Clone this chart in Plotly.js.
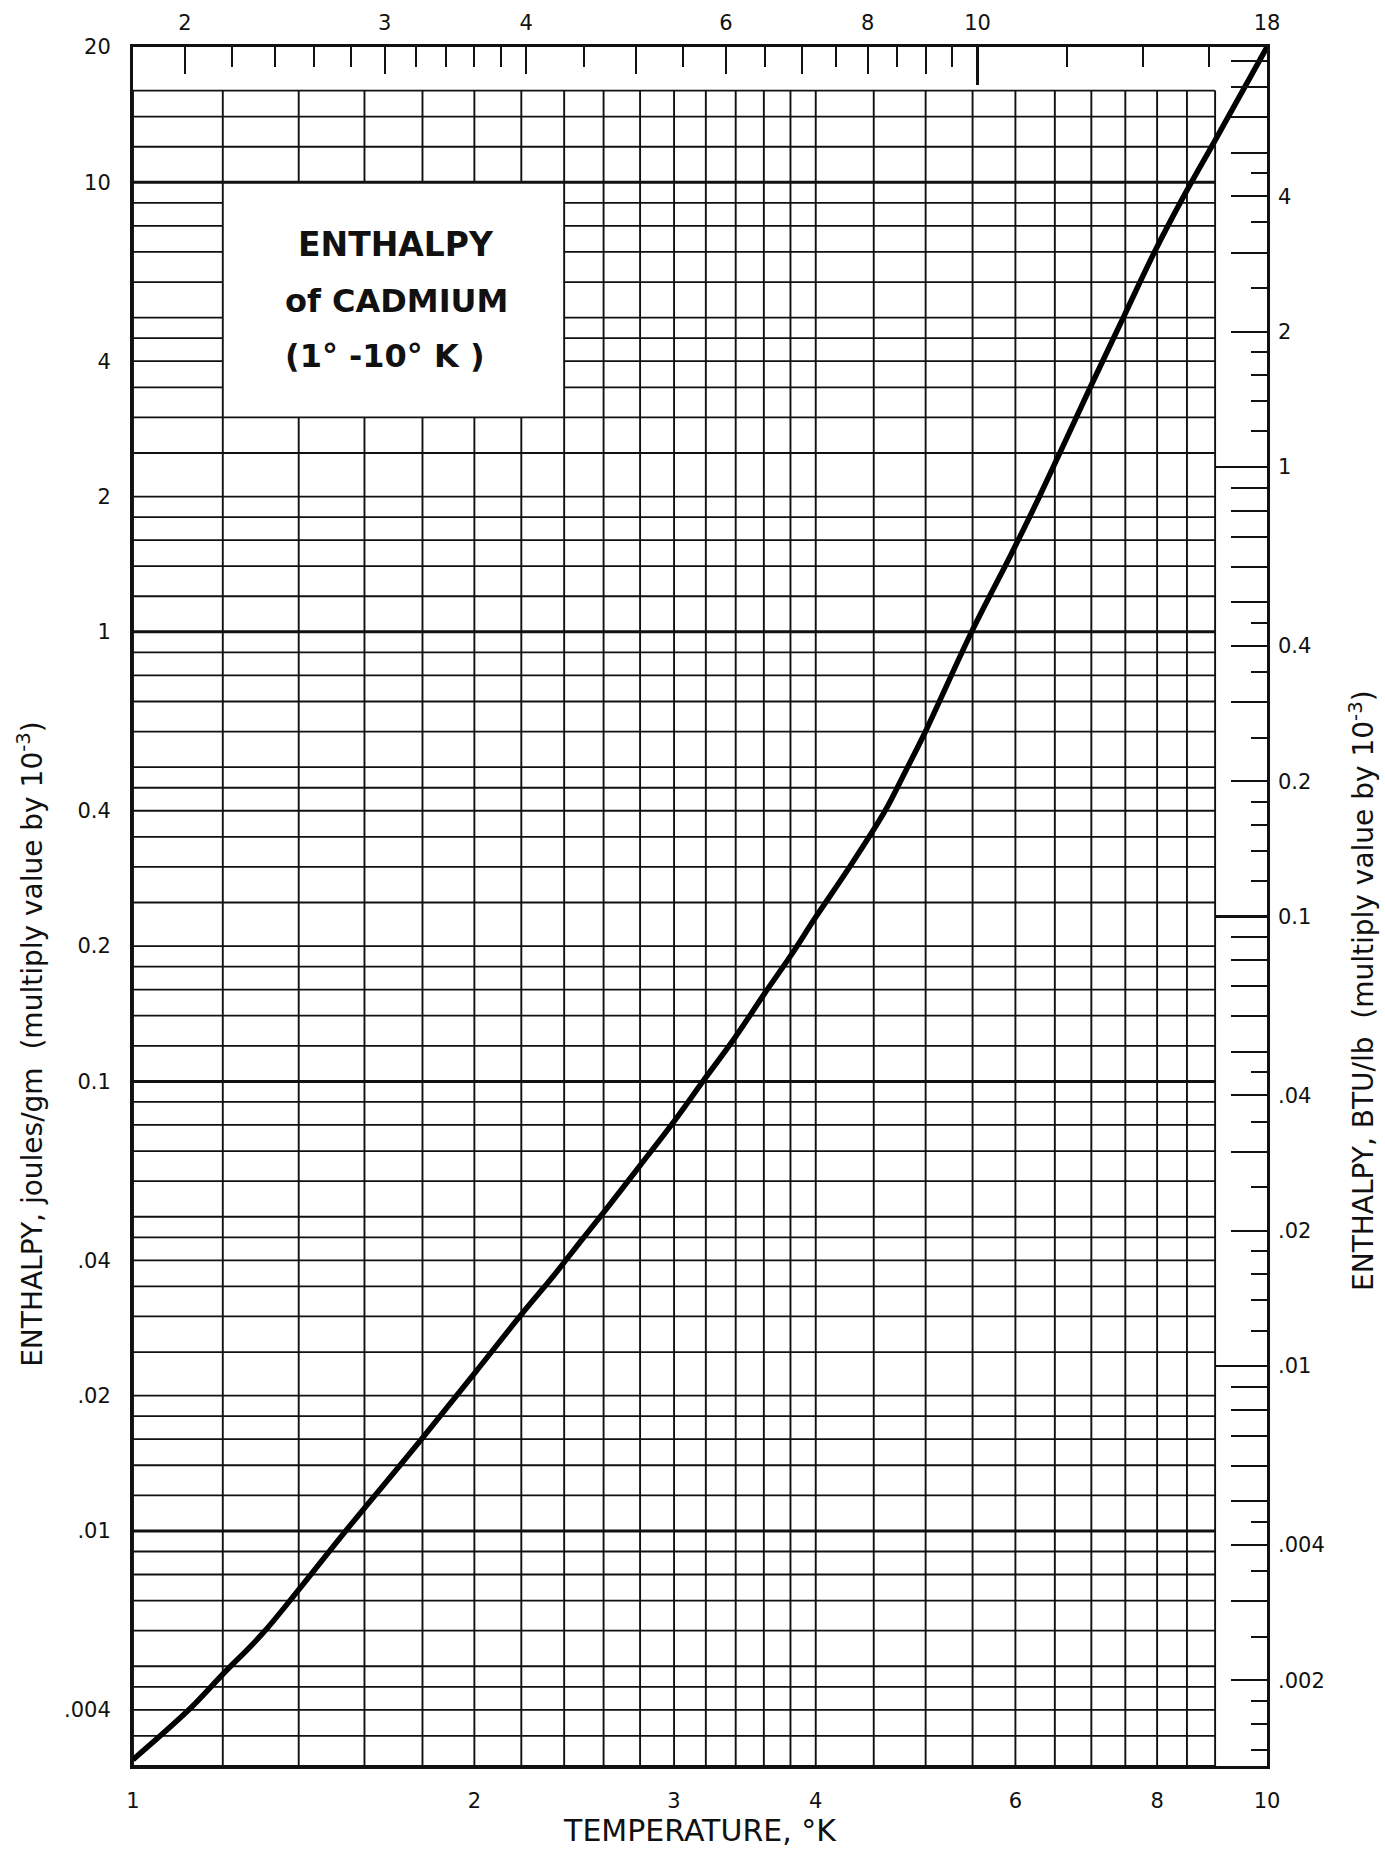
<!DOCTYPE html>
<html>
<head>
<meta charset="utf-8">
<script src="https://cdn.plot.ly/plotly-3.0.1.min.js"></script>
<style>
  html, body { margin: 0; padding: 0; background: #ffffff; }
  #chart { width: 1385px; height: 1854px; }
</style>
</head>
<body>
<div id="chart"></div>
<script>
// ---------------- DATA ----------------
// Temperature, K
const temperatureK = [1.0, 1.12, 1.2, 1.3, 1.4, 1.54, 1.72, 1.8, 2.0, 2.2, 2.35, 2.48, 2.6, 2.8, 3.0,
  3.19, 3.39, 3.6, 3.8, 4.0, 4.27, 4.6, 4.8, 4.99, 5.5, 5.95, 6.3, 6.97, 7.48, 7.98, 8.45, 9.0, 10.0];
// Enthalpy, joules/gm (x 10^-3)
const enthalpyJ = [0.0031, 0.0040, 0.0048, 0.0059, 0.0074, 0.0100, 0.0140, 0.0161, 0.0224, 0.0303, 0.0370,
  0.0440, 0.0511, 0.0650, 0.0815, 0.101, 0.1245, 0.156, 0.190, 0.232, 0.296, 0.398, 0.490, 0.595, 1.01,
  1.49, 2.0, 3.46, 5.04, 7.10, 9.34, 12.4, 20.0];

// Graph-paper rulings
const gridXVals = [1, 1.2, 1.4, 1.6, 1.8, 2, 2.2, 2.4, 2.6, 2.8, 3, 3.2, 3.4, 3.6, 3.8, 4,
  4.5, 5, 5.5, 6, 6.5, 7, 7.5, 8, 8.5, 9];
const gridYMantissas = [1, 1.2, 1.4, 1.6, 1.8, 2, 2.5, 3, 3.5, 4, 4.5, 5, 6, 7, 8, 9];
const gridYDecades = [0.001, 0.01, 0.1, 1, 10];
const heavyYVals = [0.01, 0.1, 1, 10];

// Left axis (joules/gm)
const leftTickVals = [20, 10, 4, 2, 1, 0.4, 0.2, 0.1, 0.04, 0.02, 0.01, 0.004];
const leftTickText = ['20', '10', '4', '2', '1', '0.4', '0.2', '0.1', '.04', '.02', '.01', '.004'];
// Bottom axis (K)
const bottomTickVals = [1, 2, 3, 4, 6, 8, 10];
const bottomTickText = ['1', '2', '3', '4', '6', '8', '10'];
// Top axis (degrees Rankine = 1.8 x K)
const topLabelVals = [2, 3, 4, 6, 8, 10, 18];
const topLabelText = ['2', '3', '4', '6', '8', '10', '18'];
const topMidTicks = [5, 7, 9];
const topLongTicks = [10];
const topShortTicks = [2.2, 2.4, 2.6, 2.8, 3.2, 3.4, 3.6, 3.8, 4.5, 5.5, 6.5, 7.5, 8.5, 9.5, 12, 14, 16];
// Right axis (BTU/lb)
const rightLabelVals = [4, 2, 1, 0.4, 0.2, 0.1, 0.04, 0.02, 0.01, 0.004, 0.002];
const rightLabelText = ['4', '2', '1', '0.4', '0.2', '0.1', '.04', '.02', '.01', '.004', '.002'];
const rightMidMantissas = [3, 5, 6, 7, 8, 9];
const rightShortMantissas = [1.2, 1.4, 1.6, 1.8, 2.5, 3.5, 4.5];
const rightDecades = [0.001, 0.01, 0.1, 1];
const rightLongTicks = [0.01, 0.1, 1];

const KELVIN_TO_RANKINE = 1.8;
const JG_TO_BTULB = 0.429923;

// ---------------- LAYOUT CONSTANTS ----------------
const Y_MIN = 0.003, Y_MAX = 20;
const X_MIN = 1, X_MAX = 10;
const GRID = { x0: 1, x1: 9, y0: 0.003, y1: 16 };
const BOX = { x0: 1.2, x1: 2.4, y0: 3, y1: 10 };
const INK = '#111111';
const FONT = 'DejaVu Sans, Liberation Sans, sans-serif';

const r6 = v => parseFloat(v.toPrecision(6));
const gridYVals = [];
gridYDecades.forEach(d => gridYMantissas.forEach(m => {
  const v = r6(m * d);
  if (v >= GRID.y0 - 1e-12 && v <= GRID.y1 + 1e-12) gridYVals.push(v);
}));

function hSegs(y) {
  return (y > BOX.y0 && y < BOX.y1) ? [[GRID.x0, BOX.x0], [BOX.x1, GRID.x1]] : [[GRID.x0, GRID.x1]];
}
function vSegs(x) {
  return (x > BOX.x0 && x < BOX.x1) ? [[GRID.y0, BOX.y0], [BOX.y1, GRID.y1]] : [[GRID.y0, GRID.y1]];
}

const vx = [], vy = [], hx = [], hy = [], hhx = [], hhy = [];
gridXVals.forEach(x => vSegs(x).forEach(s => { vx.push(x, x, null); vy.push(s[0], s[1], null); }));
gridYVals.forEach(y => {
  const heavy = heavyYVals.some(h => Math.abs(h - y) < 1e-9);
  hSegs(y).forEach(s => {
    if (heavy) { hhx.push(s[0], s[1], null); hhy.push(y, y, null); }
    else { hx.push(s[0], s[1], null); hy.push(y, y, null); }
  });
});

const rightMid = [], rightShort = [];
rightDecades.forEach(d => {
  rightMidMantissas.forEach(m => rightMid.push(r6(m * d)));
  rightShortMantissas.forEach(m => rightShort.push(r6(m * d)));
});

const lineTrace = (x, y, w) => ({
  type: 'scatter', mode: 'lines', x: x, y: y, connectgaps: false,
  line: { color: INK, width: w }, hoverinfo: 'skip', showlegend: false
});

const data = [
  lineTrace(vx, vy, 1.9),
  lineTrace(hx, hy, 1.8),
  lineTrace(hhx, hhy, 3.0),
  {
    type: 'scatter', mode: 'lines', name: 'Enthalpy of cadmium',
    x: temperatureK, y: enthalpyJ,
    line: { color: '#000000', width: 5.5, shape: 'spline', smoothing: 1.0 },
    showlegend: false
  },
  // carriers that attach the secondary (Rankine / BTU) scales to the plot
  { type: 'scatter', mode: 'lines', x: [], y: [], xaxis: 'x2', yaxis: 'y', showlegend: false, hoverinfo: 'skip' },
  { type: 'scatter', mode: 'lines', x: [], y: [], xaxis: 'x3', yaxis: 'y', showlegend: false, hoverinfo: 'skip' },
  { type: 'scatter', mode: 'lines', x: [], y: [], xaxis: 'x', yaxis: 'y2', showlegend: false, hoverinfo: 'skip' },
  { type: 'scatter', mode: 'lines', x: [], y: [], xaxis: 'x', yaxis: 'y3', showlegend: false, hoverinfo: 'skip' }
];

const tickFont = { family: FONT, size: 21, color: INK };
const lg = Math.log10;

const layout = {
  width: 1385, height: 1854,
  margin: { l: 133, r: 118, t: 47, b: 88, pad: 0 },
  paper_bgcolor: '#ffffff', plot_bgcolor: '#ffffff',
  showlegend: false,
  xaxis: {
    type: 'log', range: [lg(X_MIN), lg(X_MAX)], autorange: false,
    showgrid: false, zeroline: false,
    showline: true, mirror: true, linecolor: INK, linewidth: 3,
    ticks: '', tickmode: 'array', tickvals: bottomTickVals, ticktext: bottomTickText,
    tickfont: tickFont, ticklabelstandoff: 14,
    title: { text: 'TEMPERATURE, °K', font: { family: FONT, size: 30, color: INK }, standoff: 8 }
  },
  yaxis: {
    type: 'log', range: [lg(Y_MIN), lg(Y_MAX)], autorange: false,
    showgrid: false, zeroline: false,
    showline: true, mirror: true, linecolor: INK, linewidth: 3,
    ticks: '', tickmode: 'array', tickvals: leftTickVals, ticktext: leftTickText,
    tickfont: tickFont, ticklabelstandoff: 15
  },
  // top scale: degrees Rankine, labelled ticks (medium length) + short minor ticks
  xaxis2: {
    type: 'log', overlaying: 'x', side: 'top', anchor: 'y',
    range: [lg(X_MIN * KELVIN_TO_RANKINE), lg(X_MAX * KELVIN_TO_RANKINE)], autorange: false,
    showgrid: false, zeroline: false, showline: false,
    ticks: 'inside', ticklen: 27, tickwidth: 2, tickcolor: INK,
    tickmode: 'array', tickvals: topLabelVals, ticktext: topLabelText,
    tickfont: tickFont, ticklabelstandoff: 12,
    minor: { ticks: 'inside', tickmode: 'array', tickvals: topShortTicks, ticklen: 20, tickwidth: 2, tickcolor: INK, showgrid: false }
  },
  // top scale: long tick at 10 and unlabelled medium ticks
  xaxis3: {
    type: 'log', overlaying: 'x', side: 'top', anchor: 'y',
    range: [lg(X_MIN * KELVIN_TO_RANKINE), lg(X_MAX * KELVIN_TO_RANKINE)], autorange: false,
    showgrid: false, zeroline: false, showline: false, showticklabels: false,
    ticks: 'inside', ticklen: 38, tickwidth: 2.5, tickcolor: INK,
    tickmode: 'array', tickvals: topLongTicks,
    minor: { ticks: 'inside', tickmode: 'array', tickvals: topMidTicks, ticklen: 27, tickwidth: 2, tickcolor: INK, showgrid: false }
  },
  // right scale: BTU/lb, labelled ticks + unlabelled medium ticks
  yaxis2: {
    type: 'log', overlaying: 'y', side: 'right', anchor: 'x',
    range: [lg(Y_MIN * JG_TO_BTULB), lg(Y_MAX * JG_TO_BTULB)], autorange: false,
    showgrid: false, zeroline: false, showline: false,
    ticks: 'inside', ticklen: 36, tickwidth: 2, tickcolor: INK,
    tickmode: 'array', tickvals: rightLabelVals, ticktext: rightLabelText,
    tickfont: tickFont, ticklabelstandoff: 10,
    minor: { ticks: 'inside', tickmode: 'array', tickvals: rightMid, ticklen: 36, tickwidth: 2, tickcolor: INK, showgrid: false }
  },
  // right scale: long decade ticks + short minor ticks
  yaxis3: {
    type: 'log', overlaying: 'y', side: 'right', anchor: 'x',
    range: [lg(Y_MIN * JG_TO_BTULB), lg(Y_MAX * JG_TO_BTULB)], autorange: false,
    showgrid: false, zeroline: false, showline: false, showticklabels: false,
    ticks: 'inside', ticklen: 52, tickwidth: 2.5, tickcolor: INK,
    tickmode: 'array', tickvals: rightLongTicks,
    minor: { ticks: 'inside', tickmode: 'array', tickvals: rightShort, ticklen: 16, tickwidth: 2, tickcolor: INK, showgrid: false }
  },
  annotations: [
    { xref: 'paper', yref: 'paper', x: 0.232, y: 0.885, showarrow: false, xanchor: 'center', yanchor: 'middle',
      text: '<b>ENTHALPY</b>', font: { family: FONT, size: 33, color: INK } },
    { xref: 'paper', yref: 'paper', x: 0.232, y: 0.852, showarrow: false, xanchor: 'center', yanchor: 'middle',
      text: '<b>of CADMIUM</b>', font: { family: FONT, size: 32, color: INK } },
    { xref: 'paper', yref: 'paper', x: 0.222, y: 0.820, showarrow: false, xanchor: 'center', yanchor: 'middle',
      text: '<b>(1° -10° K )</b>', font: { family: FONT, size: 32, color: INK } },
    { xref: 'paper', yref: 'paper', x: -0.091, y: 0.420, showarrow: false, xanchor: 'center', yanchor: 'middle',
      textangle: -90,
      text: 'ENTHALPY, joules/gm\u00A0\u00A0(multiply value by 10<sup>-3</sup>)',
      font: { family: FONT, size: 28, color: INK } },
    { xref: 'paper', yref: 'paper', x: 1.084, y: 0.451, showarrow: false, xanchor: 'center', yanchor: 'middle',
      textangle: -90,
      text: 'ENTHALPY, BTU/lb\u00A0\u00A0(multiply value by 10<sup>-3</sup>)',
      font: { family: FONT, size: 28, color: INK } }
  ]
};

Plotly.newPlot('chart', data, layout, { staticPlot: true, displayModeBar: false });
</script>
</body>
</html>
